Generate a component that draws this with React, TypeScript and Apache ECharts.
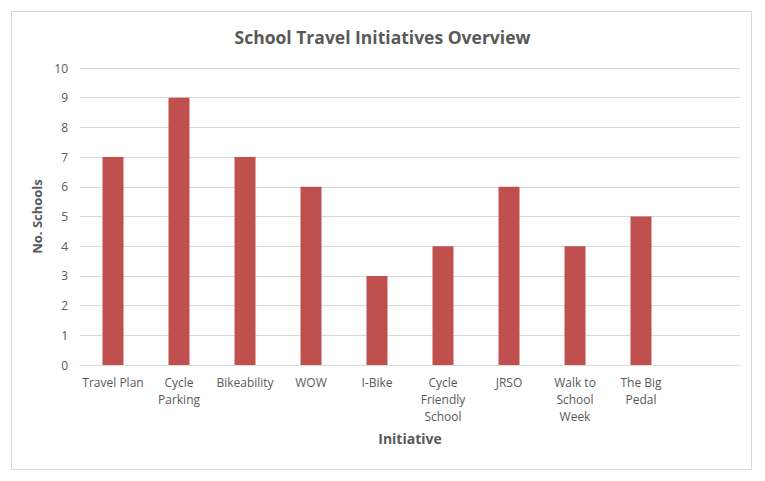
import { useEffect, useRef } from "react";
import * as echarts from "echarts";

const categories = [
  "Travel Plan",
  "Cycle\nParking",
  "Bikeability",
  "WOW",
  "I-Bike",
  "Cycle\nFriendly\nSchool",
  "JRSO",
  "Walk to\nSchool\nWeek",
  "The Big\nPedal",
  "",
];
const schools = [7, 9, 7, 6, 3, 4, 6, 4, 5, null];

const FONT = "'Open Sans', sans-serif";
const TEXT = "#595959";

function buildOption(): echarts.EChartsOption {
  return {
    animation: false,
    backgroundColor: "#ffffff",
    title: {
      text: "School Travel Initiatives Overview",
      left: "center",
      top: 23,
      textStyle: { color: TEXT, fontSize: 17.5, fontWeight: "bold", fontFamily: FONT },
    },
    graphic: [
      {
        type: "rect",
        shape: { x: 11.5, y: 11.5, width: 740, height: 458 },
        style: { fill: "none", stroke: "#d9d9d9", lineWidth: 1 },
        silent: true,
      },
    ],
    grid: { left: 80, right: 25, top: 68, bottom: 116 },
    xAxis: {
      type: "category",
      data: categories,
      name: "Initiative",
      nameLocation: "middle",
      nameGap: 66,
      nameTextStyle: { color: TEXT, fontSize: 14, fontWeight: "bold", fontFamily: FONT },
      axisLine: { lineStyle: { color: "#d9d9d9" } },
      axisTick: { show: false },
      axisLabel: { color: TEXT, fontSize: 12, fontFamily: FONT, interval: 0, lineHeight: 17, margin: 9 },
    },
    yAxis: {
      type: "value",
      min: 0,
      max: 10,
      interval: 1,
      name: "No. Schools",
      nameLocation: "middle",
      nameGap: 29,
      nameTextStyle: { color: TEXT, fontSize: 13, fontWeight: "bold", fontFamily: FONT },
      axisLine: { show: false },
      axisTick: { show: false },
      axisLabel: { color: TEXT, fontSize: 12, fontFamily: FONT, margin: 12 },
      splitLine: { lineStyle: { color: "#d9d9d9" } },
    },
    series: [
      {
        type: "bar",
        data: schools,
        barWidth: 21,
        itemStyle: { color: "#c0504d" },
      },
    ],
  };
}

export default function App() {
  const el = useRef<HTMLDivElement>(null);

  useEffect(() => {
    document.body.style.margin = "0";
    if (!el.current) return;
    const chart = echarts.init(el.current, undefined, { renderer: "svg" });
    chart.setOption(buildOption());
    return () => chart.dispose();
  }, []);

  return <div ref={el} style={{ width: 765, height: 481 }} />;
}
